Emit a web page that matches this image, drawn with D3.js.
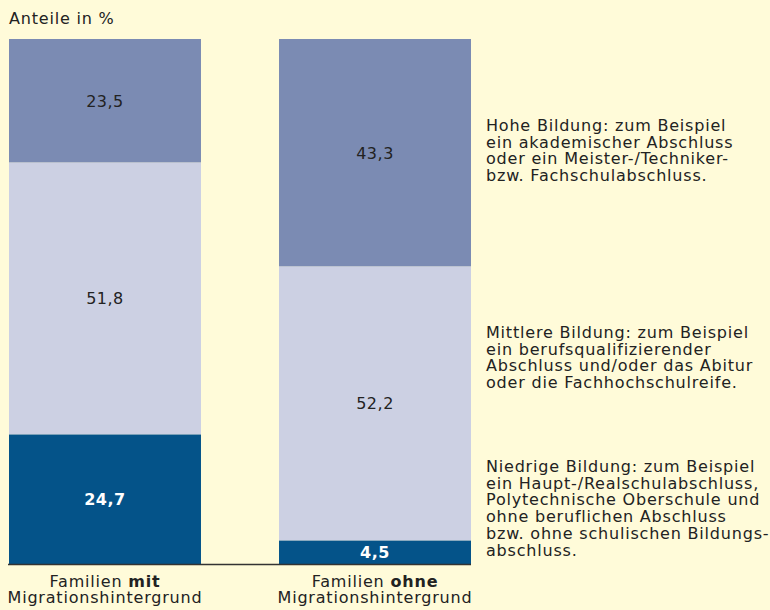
<!DOCTYPE html>
<html>
<head>
<meta charset="utf-8">
<script src="https://cdn.jsdelivr.net/npm/d3@7"></script>
<style>
  html, body { margin: 0; padding: 0; background: #fffbd9; }
  svg { display: block; font-family: "DejaVu Sans", sans-serif; }
</style>
</head>
<body>
<svg id="chart" width="770" height="610"></svg>
<script>
// Werte aus der Grafik (Anteile in %)
const groupPrefix = ["Familien", "Familien"];
const groupBold = ["mit", "ohne"];
const groupSuffix = ["Migrationshintergrund", "Migrationshintergrund"];
const niedrig = [24.7, 4.5];
const mittel = [51.8, 52.2];
const hoch = [23.5, 43.3];
const seriesKeys = ["niedrig", "mittel", "hoch"];
const legendLines = {
    hoch: ["Hohe Bildung: zum Beispiel", "ein akademischer Abschluss", "oder ein Meister-/Techniker-", "bzw. Fachschulabschluss."],
    mittel: ["Mittlere Bildung: zum Beispiel", "ein berufsqualifizierender", "Abschluss und/oder das Abitur", "oder die Fachhochschulreife."],
    niedrig: ["Niedrige Bildung: zum Beispiel", "ein Haupt-/Realschulabschluss,", "Polytechnische Oberschule und", "ohne beruflichen Abschluss", "bzw. ohne schulischen Bildungs-", "abschluss."]
};

const COLORS = {hoch: "#7b8bb3", mittel: "#ccd0e3", niedrig: "#045389"};
const LEGEND_Y = {hoch: 131, mittel: 338, niedrig: 472};
const FS = 16, LS = 0.8;

const rows = groupBold.map((g, i) => ({
    key: g, niedrig: niedrig[i], mittel: mittel[i], hoch: hoch[i]
}));

const svg = d3.select("#chart");
const x = d3.scaleBand().domain(groupBold).range([9, 471]).paddingInner(0.289).paddingOuter(0);
const y = d3.scaleLinear().domain([0, 100]).range([564, 39]);
const de = d3.formatLocale({decimal: ",", thousands: ".", grouping: [3], currency: ["", " €"]});
const fmt = de.format(".1f");

const stacked = d3.stack().keys(seriesKeys)(rows);

svg.append("text")
    .attr("x", 9).attr("y", 24)
    .attr("font-size", FS).attr("letter-spacing", LS).attr("fill", "#222")
    .text("Anteile in %");

const layers = svg.selectAll(".layer")
    .data(stacked)
    .enter()
    .append("g")
    .attr("class", "layer")
    .attr("fill", d => COLORS[d.key]);

layers.selectAll("rect")
    .data(d => d)
    .enter()
    .append("rect")
    .attr("x", d => x(d.data.key))
    .attr("width", x.bandwidth())
    .attr("y", d => y(d[1]))
    .attr("height", d => y(d[0]) - y(d[1]));

layers.selectAll("text")
    .data(d => d.map(v => ({v, key: d.key})))
    .enter()
    .append("text")
    .attr("x", d => x(d.v.data.key) + x.bandwidth() / 2)
    .attr("y", d => (y(d.v[0]) + y(d.v[1])) / 2 + 6)
    .attr("text-anchor", "middle")
    .attr("font-size", FS)
    .attr("letter-spacing", 0.5)
    .attr("font-weight", d => d.key === "niedrig" ? "bold" : "normal")
    .attr("fill", d => d.key === "niedrig" ? "#fff" : "#222")
    .text(d => fmt(d.v[1] - d.v[0]));

// Grundlinie
svg.append("line")
    .attr("x1", 8).attr("x2", 471)
    .attr("y1", y(0) + 0.5).attr("y2", y(0) + 0.5)
    .attr("stroke", "#333").attr("stroke-width", 1.5);

// Kategorien
const cats = svg.selectAll(".cat")
    .data(groupBold)
    .enter()
    .append("text")
    .attr("class", "cat")
    .attr("text-anchor", "middle")
    .attr("font-size", FS)
    .attr("letter-spacing", LS)
    .attr("fill", "#222");

cats.append("tspan")
    .attr("x", d => x(d) + x.bandwidth() / 2)
    .attr("y", 587)
    .text((d, i) => groupPrefix[i] + " ")
    .append("tspan")
    .attr("font-weight", "bold")
    .text(d => d);

cats.append("tspan")
    .attr("x", d => x(d) + x.bandwidth() / 2)
    .attr("y", 603)
    .text((d, i) => groupSuffix[i]);

// Legende
const legend = svg.selectAll(".legend")
    .data(seriesKeys)
    .enter()
    .append("text")
    .attr("class", "legend")
    .attr("font-size", FS)
    .attr("letter-spacing", LS)
    .attr("fill", "#222");

legend.selectAll("tspan")
    .data(k => legendLines[k].map((t, i) => ({t, i, k})))
    .enter()
    .append("tspan")
    .attr("x", 486)
    .attr("y", d => LEGEND_Y[d.k] + d.i * 16.7)
    .text(d => d.t);
</script>
</body>
</html>
